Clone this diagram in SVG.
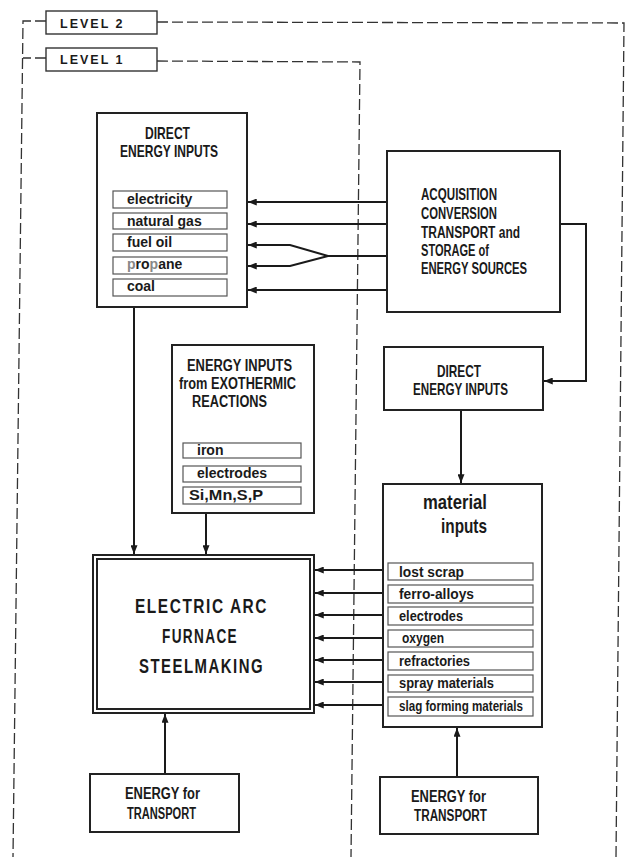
<svg xmlns="http://www.w3.org/2000/svg" width="626" height="857" viewBox="0 0 626 857">
<style>
  .box { fill: #fff; stroke: #222; stroke-width: 2; }
  .item { fill: #fff; stroke: #555; stroke-width: 1.2; }
  .lvl { fill: #fff; stroke: #333; stroke-width: 1.4; }
  .dash { fill: none; stroke: #333; stroke-width: 1.3; stroke-dasharray: 11 4; }
  .con { fill: none; stroke: #1a1a1a; stroke-width: 2; }
  .t { font-family: "Liberation Sans", Arial, sans-serif; font-weight: bold; fill: #1a1a1a; }
  .h { font-size: 17px; }
  .i { font-size: 14px; }
  .n { font-size: 16px; }
  .m { font-size: 15.5px; }
  .lv { font-size: 12.5px; letter-spacing: 2px; }
  .big { font-size: 20px; }
</style>
<defs>
  <marker id="ah" viewBox="0 0 10 8" refX="10" refY="4" markerWidth="9" markerHeight="7" markerUnits="userSpaceOnUse" orient="auto">
    <path d="M0,0 L10,4 L0,8 Z" fill="#1a1a1a"/>
  </marker>
</defs>
<rect width="626" height="857" fill="#fff"/>

<g id="levels">
  <path class="dash" d="M46,21 L23,21 L13,857"/>
  <path class="dash" d="M46,58 L23,58"/>
  <path class="dash" d="M157,22 L624,23 L616,857"/>
  <path class="dash" d="M157,61 L360,62 L351,857"/>
  <g id="level2">
    <rect class="lvl" x="46" y="11" width="111" height="23"/>
    <text class="t lv" x="60" y="28">LEVEL 2</text>
  </g>
  <g id="level1">
    <rect class="lvl" x="46" y="48" width="111" height="23"/>
    <text class="t lv" x="60" y="64">LEVEL  1</text>
  </g>
</g>

<g id="connectors">
  <path class="con" marker-end="url(#ah)" d="M386,202 L248,202"/>
  <path class="con" marker-end="url(#ah)" d="M386,224 L248,224"/>
  <path class="con" marker-end="url(#ah)" d="M386,256 L328,256 L290,245 L248,245"/>
  <path class="con" marker-end="url(#ah)" d="M328,256 L290,266 L248,266"/>
  <path class="con" marker-end="url(#ah)" d="M386,290 L248,290"/>
  <path class="con" marker-end="url(#ah)" d="M560,224 L586,224 L586,381 L544,381"/>
  <path class="con" marker-end="url(#ah)" d="M134,307 L134,554"/>
  <path class="con" marker-end="url(#ah)" d="M206,513 L206,554"/>
  <path class="con" marker-end="url(#ah)" d="M461,410 L461,483"/>
  <path class="con" marker-end="url(#ah)" d="M383,570 L315,570"/>
  <path class="con" marker-end="url(#ah)" d="M383,593 L315,593"/>
  <path class="con" marker-end="url(#ah)" d="M383,615 L315,615"/>
  <path class="con" marker-end="url(#ah)" d="M383,638 L315,638"/>
  <path class="con" marker-end="url(#ah)" d="M383,660 L315,660"/>
  <path class="con" marker-end="url(#ah)" d="M383,682 L315,682"/>
  <path class="con" marker-end="url(#ah)" d="M383,705 L315,705"/>
  <path class="con" marker-end="url(#ah)" d="M165,774 L165,714"/>
  <path class="con" marker-end="url(#ah)" d="M457,777 L457,728"/>
</g>

<g id="direct-energy-inputs">
  <rect class="box" x="97" y="113" width="150" height="194"/>
  <text class="t h" x="145" y="139" textLength="45" lengthAdjust="spacingAndGlyphs">DIRECT</text>
  <text class="t h" x="120" y="157" textLength="98" lengthAdjust="spacingAndGlyphs">ENERGY INPUTS</text>
  <rect class="item" x="113" y="191" width="114" height="17"/>
  <text class="t i" x="127" y="204">electricity</text>
  <rect class="item" x="113" y="213" width="114" height="16"/>
  <text class="t i" x="127" y="226">natural gas</text>
  <rect class="item" x="113" y="234" width="114" height="17"/>
  <text class="t i" x="127" y="247">fuel oil</text>
  <rect class="item" x="113" y="257" width="114" height="17"/>
  <text class="t i" x="127" y="269"><tspan fill="#888">p</tspan>ro<tspan fill="#888">p</tspan>ane</text>
  <rect class="item" x="113" y="279" width="114" height="17"/>
  <text class="t i" x="127" y="291">coal</text>
</g>

<g id="acquisition">
  <rect class="box" x="387" y="151" width="173" height="161"/>
  <text class="t n" x="421" y="200" textLength="76" lengthAdjust="spacingAndGlyphs">ACQUISITION</text>
  <text class="t n" x="421" y="219" textLength="76" lengthAdjust="spacingAndGlyphs">CONVERSION</text>
  <text class="t n" x="421" y="238" textLength="99" lengthAdjust="spacingAndGlyphs">TRANSPORT and</text>
  <text class="t n" x="421" y="256" textLength="68" lengthAdjust="spacingAndGlyphs">STORAGE of</text>
  <text class="t n" x="421" y="274" textLength="106" lengthAdjust="spacingAndGlyphs">ENERGY SOURCES</text>
</g>

<g id="exothermic">
  <rect class="box" x="172" y="345" width="142" height="168"/>
  <text class="t n" x="187" y="371" textLength="105" lengthAdjust="spacingAndGlyphs">ENERGY  INPUTS</text>
  <text class="t n" x="179" y="389" textLength="117" lengthAdjust="spacingAndGlyphs">from  EXOTHERMIC</text>
  <text class="t n" x="192" y="407" textLength="75" lengthAdjust="spacingAndGlyphs">REACTIONS</text>
  <rect class="item" x="183" y="443" width="118" height="15"/>
  <text class="t i" x="197" y="455">iron</text>
  <rect class="item" x="183" y="466" width="118" height="16"/>
  <text class="t i" x="197" y="478">electrodes</text>
  <rect class="item" x="183" y="487" width="118" height="17"/>
  <text class="t i" x="189" y="500" textLength="74" lengthAdjust="spacingAndGlyphs">Si,Mn,S,P</text>
</g>

<g id="direct-energy-inputs-2">
  <rect class="box" x="384" y="347" width="159" height="63"/>
  <text class="t h" x="437" y="377" textLength="44" lengthAdjust="spacingAndGlyphs">DIRECT</text>
  <text class="t h" x="413" y="395" textLength="95" lengthAdjust="spacingAndGlyphs">ENERGY INPUTS</text>
</g>

<g id="material-inputs">
  <rect class="box" x="383" y="484" width="159" height="243"/>
  <text class="t" font-size="20.5" x="423" y="509" textLength="64" lengthAdjust="spacingAndGlyphs">material</text>
  <text class="t" font-size="20.5" x="441" y="533" textLength="46" lengthAdjust="spacingAndGlyphs">inputs</text>
  <rect class="item" x="388" y="563" width="145" height="17"/>
  <text class="t m" x="399" y="577" textLength="65" lengthAdjust="spacingAndGlyphs">lost  scrap</text>
  <rect class="item" x="388" y="585" width="145" height="18"/>
  <text class="t m" x="399" y="599" textLength="75" lengthAdjust="spacingAndGlyphs">ferro-alloys</text>
  <rect class="item" x="388" y="607" width="145" height="18"/>
  <text class="t m" x="399" y="621" textLength="64" lengthAdjust="spacingAndGlyphs">electrodes</text>
  <rect class="item" x="388" y="630" width="145" height="17"/>
  <text class="t m" x="402" y="643" textLength="42" lengthAdjust="spacingAndGlyphs">oxygen</text>
  <rect class="item" x="388" y="652" width="145" height="18"/>
  <text class="t m" x="399" y="666" textLength="71" lengthAdjust="spacingAndGlyphs">refractories</text>
  <rect class="item" x="388" y="675" width="145" height="17"/>
  <text class="t m" x="399" y="688" textLength="95" lengthAdjust="spacingAndGlyphs">spray  materials</text>
  <rect class="item" x="388" y="697" width="145" height="19"/>
  <text class="t m" x="399" y="711" textLength="124" lengthAdjust="spacingAndGlyphs">slag forming materials</text>
</g>

<g id="furnace">
  <rect class="box" x="93" y="555" width="221" height="158" stroke-width="1.5"/>
  <rect class="box" x="97" y="559" width="213" height="150" stroke-width="2.2"/>
  <text class="t big" x="135" y="613" textLength="133" lengthAdjust="spacingAndGlyphs" letter-spacing="2">ELECTRIC  ARC</text>
  <text class="t big" x="162" y="643" textLength="76" lengthAdjust="spacingAndGlyphs" letter-spacing="2">FURNACE</text>
  <text class="t big" x="139" y="673" textLength="125" lengthAdjust="spacingAndGlyphs" letter-spacing="2">STEELMAKING</text>
</g>

<g id="transport-1">
  <rect class="box" x="90" y="774" width="149" height="58"/>
  <text class="t n" x="125" y="799" textLength="75" lengthAdjust="spacingAndGlyphs">ENERGY  for</text>
  <text class="t n" x="127" y="819" textLength="69" lengthAdjust="spacingAndGlyphs">TRANSPORT</text>
</g>

<g id="transport-2">
  <rect class="box" x="380" y="777" width="158" height="57"/>
  <text class="t n" x="411" y="802" textLength="75" lengthAdjust="spacingAndGlyphs">ENERGY  for</text>
  <text class="t n" x="414" y="821" textLength="73" lengthAdjust="spacingAndGlyphs">TRANSPORT</text>
</g>
</svg>
